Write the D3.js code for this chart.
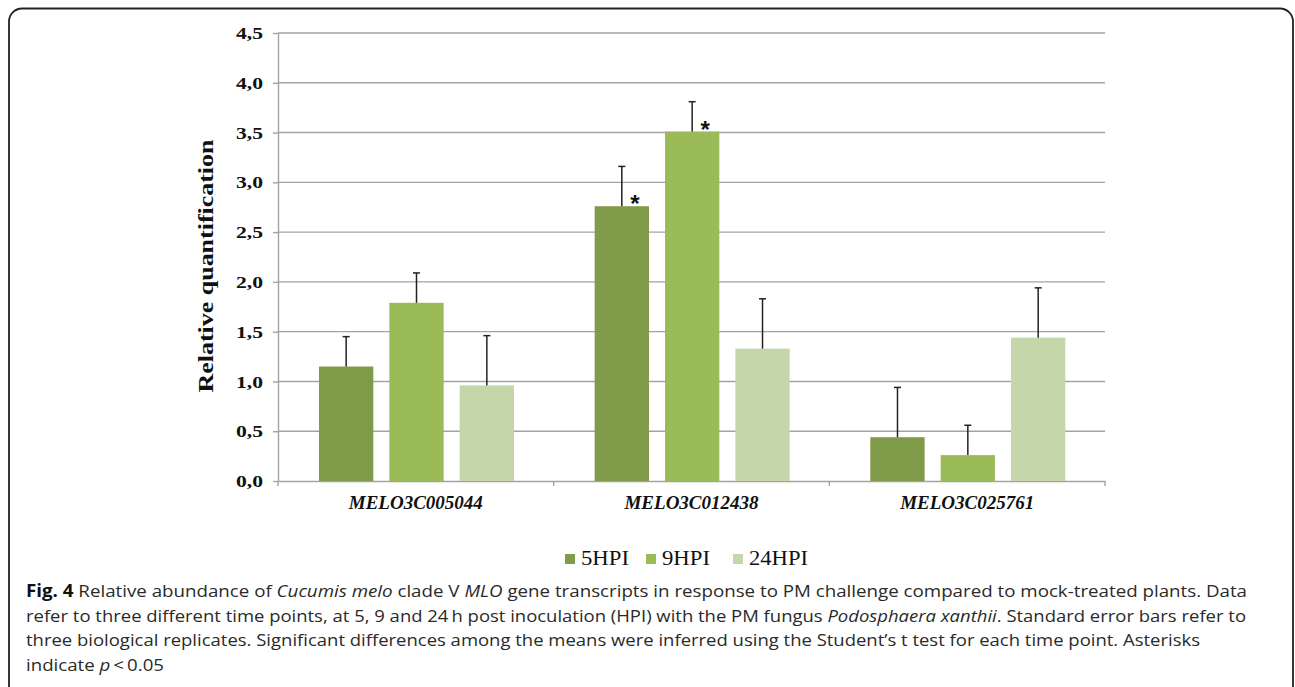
<!DOCTYPE html>
<html>
<head>
<meta charset="utf-8">
<script src="https://cdn.jsdelivr.net/npm/d3@7"></script>
<style>
  html, body { margin: 0; padding: 0; background: #fff; }
  svg { display: block; }
</style>
</head>
<body>
<div id="chart"></div>
<script>
// chart values
const genes = ['MELO3C005044', 'MELO3C012438', 'MELO3C025761'];
const series = ['5HPI', '9HPI', '24HPI'];
const values5 = [1.15, 2.76, 0.44];
const values9 = [1.79, 3.51, 0.26];
const values24 = [0.96, 1.33, 1.44];
const errors5 = [0.30, 0.40, 0.50];
const errors9 = [0.30, 0.30, 0.30];
const errors24 = [0.50, 0.50, 0.50];
const signif5 = [false, true, false];
const signif9 = [false, true, false];
const signif24 = [false, false, false];
const yTicks = [0, 0.5, 1, 1.5, 2, 2.5, 3, 3.5, 4, 4.5];
const colors = ['#7f9a48', '#9bbb59', '#c6d6ab'];

const W = 1295, H = 687;

const svg = d3.select('#chart').append('svg')
    .attr('width', W)
    .attr('height', H);

// figure frame (bottom runs off the page)
svg.append('rect')
    .attr('x', 9).attr('y', 8.5)
    .attr('width', 1284).attr('height', 720)
    .attr('rx', 13)
    .attr('fill', 'none')
    .attr('stroke', '#222')
    .attr('stroke-width', 1.8);

// build rows for the bars
const rows = [];
const vals = [values5, values9, values24];
const errs = [errors5, errors9, errors24];
const sigs = [signif5, signif9, signif24];
genes.forEach((g, gi) => {
    series.forEach((s, si) => {
        rows.push({gene: g, series: s, si: si, value: vals[si][gi], err: errs[si][gi], sig: sigs[si][gi]});
    });
});

const x0 = d3.scaleBand().domain(genes).range([278, 1105]).padding(0);
const x1 = d3.scaleBand().domain(series).range([41, 236]).paddingInner(0.228).paddingOuter(0);
const y = d3.scaleLinear().domain([0, 4.5]).range([481, 33]);

const grid = '#a3a3a3';

// gridlines
svg.append('g')
    .selectAll('line')
    .data(yTicks.filter(t => t > 0))
    .join('line')
    .attr('x1', 278).attr('x2', 1105)
    .attr('y1', d => y(d)).attr('y2', d => y(d))
    .attr('stroke', grid)
    .attr('stroke-width', 1.4);

// y axis
const yAxis = svg.append('g')
    .attr('transform', 'translate(278,0)')
    .call(d3.axisLeft(y).tickValues(yTicks).tickSize(5).tickSizeOuter(0)
        .tickFormat(d => d3.format('.1f')(d).replace('.', ',')));
yAxis.select('.domain').attr('stroke', grid).attr('stroke-width', 1.4);
yAxis.selectAll('.tick line').attr('stroke', grid).attr('stroke-width', 1.4);
yAxis.selectAll('.tick text')
    .attr('x', -15)
    .attr('dy', '0.34em')
    .attr('fill', '#111')
    .style('font-family', '"Liberation Serif", "Times New Roman", serif')
    .style('font-weight', 'bold')
    .style('font-size', '16.5px')
    .attr('textLength', 27)
    .attr('lengthAdjust', 'spacingAndGlyphs');

// x axis
const xAxis = svg.append('g')
    .attr('transform', 'translate(0,481)')
    .call(d3.axisBottom(x0).tickSize(0).tickSizeOuter(0));
xAxis.select('.domain').attr('stroke', grid).attr('stroke-width', 1.4);
xAxis.selectAll('.tick text')
    .attr('y', 28)
    .attr('dy', 0)
    .attr('fill', '#111')
    .style('font-family', '"Liberation Serif", "Times New Roman", serif')
    .style('font-weight', 'bold')
    .style('font-style', 'italic')
    .style('font-size', '19px');

// group separator ticks under the axis
const sep = [278].concat(genes.map(g => x0(g) + x0.bandwidth()));
svg.append('g')
    .selectAll('line')
    .data(sep)
    .join('line')
    .attr('x1', d => d).attr('x2', d => d)
    .attr('y1', 481).attr('y2', 486)
    .attr('stroke', grid)
    .attr('stroke-width', 1.4);

// bars
svg.append('g')
    .selectAll('rect')
    .data(rows)
    .join('rect')
    .attr('x', d => x0(d.gene) + x1(d.series))
    .attr('y', d => y(d.value))
    .attr('width', x1.bandwidth())
    .attr('height', d => y(0) - y(d.value))
    .attr('fill', d => colors[d.si]);

// error bars (upper half only)
const eb = svg.append('g').attr('stroke', '#222').attr('stroke-width', 1.5);
eb.selectAll('line.v')
    .data(rows)
    .join('line')
    .attr('class', 'v')
    .attr('x1', d => x0(d.gene) + x1(d.series) + x1.bandwidth() / 2)
    .attr('x2', d => x0(d.gene) + x1(d.series) + x1.bandwidth() / 2)
    .attr('y1', d => y(d.value))
    .attr('y2', d => y(d.value + d.err));
eb.selectAll('line.c')
    .data(rows)
    .join('line')
    .attr('class', 'c')
    .attr('x1', d => x0(d.gene) + x1(d.series) + x1.bandwidth() / 2 - 3.5)
    .attr('x2', d => x0(d.gene) + x1(d.series) + x1.bandwidth() / 2 + 3.5)
    .attr('y1', d => y(d.value + d.err))
    .attr('y2', d => y(d.value + d.err));

// significance asterisks
svg.append('g')
    .selectAll('text')
    .data(rows.filter(d => d.sig))
    .join('text')
    .attr('x', d => x0(d.gene) + x1(d.series) + x1.bandwidth() / 2 + 13)
    .attr('y', d => y(d.value) + 6)
    .attr('text-anchor', 'middle')
    .attr('fill', '#111')
    .style('font-family', '"Liberation Sans", Arial, sans-serif')
    .style('font-weight', 'bold')
    .style('font-size', '24px')
    .text('*');

// y axis title
svg.append('text')
    .attr('transform', 'translate(213,266) rotate(-90)')
    .attr('text-anchor', 'middle')
    .attr('fill', '#111')
    .style('font-family', '"Liberation Serif", "Times New Roman", serif')
    .style('font-weight', 'bold')
    .style('font-size', '20px')
    .attr('textLength', 253)
    .attr('lengthAdjust', 'spacingAndGlyphs')
    .text('Relative quantification');

// legend
const legendX = [565, 646, 733];
const legendW = [48, 48, 59];
const legend = svg.append('g')
    .selectAll('g')
    .data(series)
    .join('g')
    .attr('transform', (d, i) => `translate(${legendX[i]},554)`);
legend.append('rect')
    .attr('width', 10).attr('height', 10)
    .attr('fill', (d, i) => colors[i]);
legend.append('text')
    .attr('x', 16).attr('y', 11)
    .attr('fill', '#111')
    .style('font-family', '"Liberation Serif", "Times New Roman", serif')
    .style('font-size', '20px')
    .attr('textLength', (d, i) => legendW[i])
    .attr('lengthAdjust', 'spacingAndGlyphs')
    .text(d => d);

// caption
const captionLines = [
    {len: 1221, parts: [['Fig. 4', 'b'], [' Relative abundance of ', ''], ['Cucumis melo', 'i'], [' clade V ', ''], ['MLO', 'i'],
        [' gene transcripts in response to PM challenge compared to mock-treated plants. Data', '']]},
    {len: 1220, parts: [['refer to three different time points, at 5, 9 and 24\u2009h post inoculation (HPI) with the PM fungus ', ''],
        ['Podosphaera xanthii', 'i'], ['. Standard error bars refer to', '']]},
    {len: 1174, parts: [['three biological replicates. Significant differences among the means were inferred using the Student\u2019s t test for each time point. Asterisks', '']]},
    {len: 138, parts: [['indicate ', ''], ['p', 'i'], ['\u2009<\u20090.05', '']]}
];
const cap = svg.append('g')
    .style('font-family', '"Open Sans", "Noto Sans", sans-serif')
    .style('font-size', '17px')
    .attr('fill', '#2a2a2a');
captionLines.forEach((line, li) => {
    const t = cap.append('text')
        .attr('x', 26)
        .attr('y', 597 + li * 24.5)
        .attr('textLength', line.len)
        .attr('lengthAdjust', 'spacingAndGlyphs');
    line.parts.forEach(p => {
        t.append('tspan')
            .style('font-weight', p[1] === 'b' ? 'bold' : null)
            .style('font-style', p[1] === 'i' ? 'italic' : null)
            .attr('fill', p[1] === 'b' ? '#111' : null)
            .text(p[0]);
    });
});
</script>
</body>
</html>
